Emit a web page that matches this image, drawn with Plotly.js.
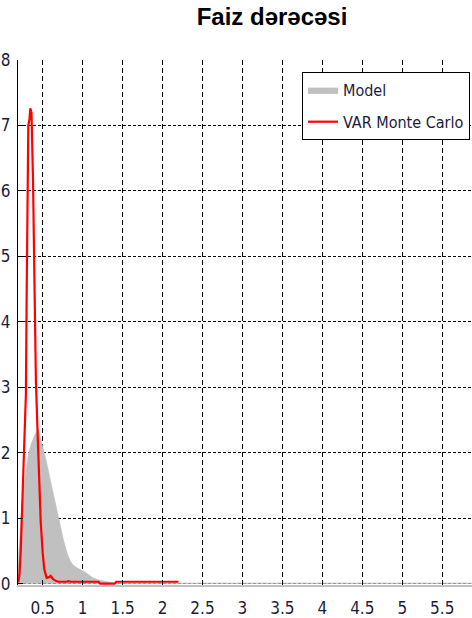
<!DOCTYPE html>
<html>
<head>
<meta charset="utf-8">
<script src="https://cdn.plot.ly/plotly-3.0.1.min.js"></script>
<style>
html,body{margin:0;padding:0;background:#fff;}
#chart{width:472px;height:618px;}
</style>
</head>
<body>
<div id="chart"></div>
<script>
// ---- data ----
const chartTitle = "Faiz dərəcəsi";
const modelName = "Model";
const varName = "VAR Monte Carlo";

const modelX = [0.19, 0.21, 0.23, 0.25, 0.28, 0.32, 0.36, 0.40, 0.445, 0.47, 0.51, 0.55, 0.59, 0.63, 0.67, 0.70, 0.73, 0.76, 0.79, 0.82, 0.85, 0.88, 0.92, 0.97, 1.01, 1.05, 1.09, 1.13, 1.19, 1.26, 1.32, 1.38, 1.45, 1.6, 2.0, 3.0, 4.0, 5.0, 6.0];
const modelY = [0.28, 0.60, 1.00, 1.35, 1.65, 1.98, 2.15, 2.27, 2.37, 2.25, 2.08, 1.85, 1.62, 1.39, 1.15, 0.98, 0.82, 0.67, 0.54, 0.42, 0.34, 0.29, 0.25, 0.21, 0.19, 0.16, 0.125, 0.09, 0.06, 0.04, 0.025, 0.015, 0.012, 0.012, 0.012, 0.012, 0.012, 0.012, 0.012];

const varX = [0.195, 0.21, 0.225, 0.24, 0.255, 0.27, 0.29, 0.30, 0.305, 0.31, 0.32, 0.335, 0.345, 0.36, 0.37, 0.38, 0.39, 0.40, 0.415, 0.435, 0.455, 0.475, 0.50, 0.52, 0.55, 0.58, 0.60, 0.63, 0.67, 0.70, 0.80, 0.82, 0.85, 1.00, 1.20, 1.22, 1.40, 1.42, 1.80, 2.20];
const varY = [0.02, 0.15, 0.50, 1.00, 1.50, 2.10, 2.90, 4.50, 5.50, 5.60, 7.00, 7.10, 7.26, 7.20, 6.70, 6.10, 5.20, 4.20, 3.10, 2.35, 1.60, 0.95, 0.47, 0.22, 0.09, 0.10, 0.12, 0.07, 0.04, 0.03, 0.03, 0.04, 0.03, 0.03, 0.03, 0.0, 0.0, 0.03, 0.03, 0.03];

const xTicks = [0.5, 1, 1.5, 2, 2.5, 3, 3.5, 4, 4.5, 5, 5.5];
const xTickText = ["0.5", "1", "1.5", "2", "2.5", "3", "3.5", "4", "4.5", "5", "5.5"];
const yTicks = [0, 1, 2, 3, 4, 5, 6, 7, 8];

// ---- chart ----
const narrow = "Liberation Sans Narrow, DejaVu Sans Condensed, Arial Narrow, sans-serif";
const tickFont = {family: narrow, size: 17, color: "#1c1c3a"};
const xRange = [0.191, 5.873];

const traces = [
  {
    x: modelX, y: modelY, name: modelName, type: "scatter", mode: "lines",
    fill: "tozeroy", fillcolor: "#c0c0c0", legendgroup: "a",
    line: {color: "#c0c0c0", width: 0.5}
  },
  {
    x: varX, y: varY, name: varName, type: "scatter", mode: "lines", legendgroup: "b",
    line: {color: "#ff0000", width: 2.2}
  }
];

const layout = {
  width: 472, height: 618,
  margin: {l: 18, r: 0, t: 60, b: 33, pad: 0},
  paper_bgcolor: "#ffffff", plot_bgcolor: "#ffffff",
  showlegend: true,
  title: {
    text: "<b>" + chartTitle + "</b>",
    font: {family: "Liberation Sans, Arial, sans-serif", size: 24, color: "#000"},
    xref: "container", x: 272 / 472, xanchor: "center",
    yref: "container", y: 1 - 17 / 618, yanchor: "middle"
  },
  xaxis: {
    range: xRange, tickmode: "array", tickvals: xTicks, ticktext: xTickText,
    ticks: "inside", ticklen: 5, tickwidth: 1, tickcolor: "#000",
    showline: true, linecolor: "#c0c0c0", linewidth: 2,
    showgrid: true, gridcolor: "#000", gridwidth: 1, griddash: "5px,3px",
    zeroline: false, tickfont: tickFont, ticklabelstandoff: 7, fixedrange: true
  },
  xaxis2: {
    overlaying: "x", side: "top", range: xRange, tickmode: "array", tickvals: xTicks,
    ticks: "inside", ticklen: 5, tickwidth: 1, tickcolor: "#000",
    showticklabels: false, showline: false, showgrid: false, zeroline: false, fixedrange: true
  },
  yaxis: {
    range: [-0.02, 8], tickmode: "array", tickvals: yTicks,
    ticks: "inside", ticklen: 5, tickwidth: 1, tickcolor: "#000",
    showline: true, linecolor: "#000", linewidth: 1,
    showgrid: true, gridcolor: "#000", gridwidth: 1, griddash: "3px,2px",
    zeroline: false, tickfont: tickFont, ticklabelstandoff: 3, fixedrange: true
  },
  legend: {
    x: (302 - 18) / 454, xanchor: "left", xref: "paper",
    y: (585 - 72) / 525, yanchor: "top", yref: "paper",
    bgcolor: "#ffffff", bordercolor: "#000", borderwidth: 1,
    font: {family: narrow, size: 16, color: "#1c1c3a"},
    tracegroupgap: 8
  }
};

Plotly.newPlot("chart", traces, layout, {staticPlot: true, displayModeBar: false});
</script>
</body>
</html>
